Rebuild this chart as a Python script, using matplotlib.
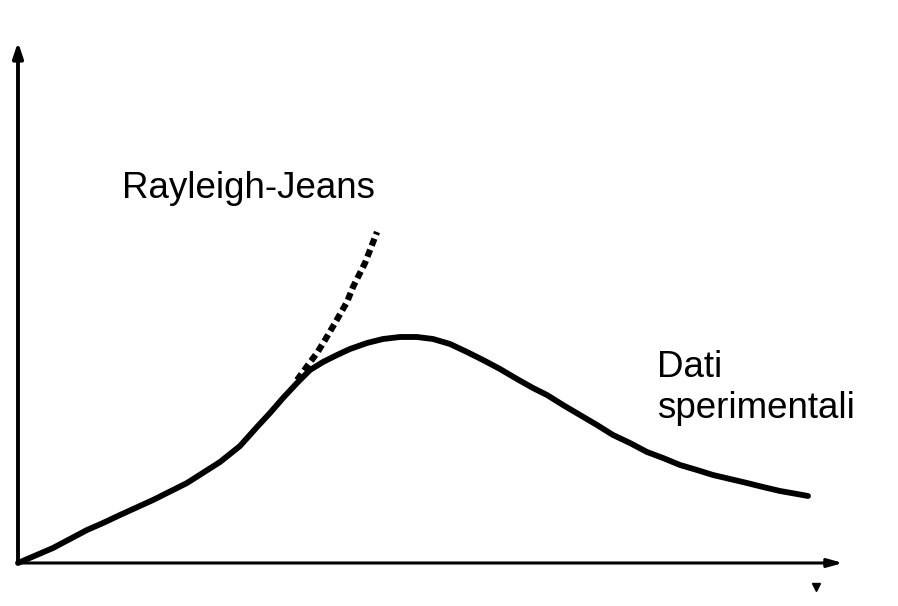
import numpy as np
import matplotlib.pyplot as plt

plt.rcParams['font.family'] = ['Liberation Sans', 'DejaVu Sans']

nu_dati = [0.0, 0.35, 0.52, 0.69, 0.85, 1.02, 1.35, 1.69, 2.02, 2.22, 2.39, 2.52,
           2.65, 2.79, 2.92, 3.05, 3.19, 3.32, 3.49, 3.65, 3.82, 3.99, 4.15, 4.32,
           4.49, 4.65, 4.82, 4.99, 5.15, 5.29, 5.45, 5.62, 5.79, 5.95, 6.12, 6.29,
           6.45, 6.62, 6.79, 6.95, 7.12, 7.29, 7.45, 7.62, 7.79, 7.90]
u_dati = [0.0, 0.15, 0.24, 0.33, 0.40, 0.48, 0.63, 0.80, 1.01, 1.17, 1.36, 1.50,
          1.65, 1.80, 1.93, 2.01, 2.08, 2.14, 2.20, 2.24, 2.26, 2.26, 2.24, 2.19,
          2.11, 2.03, 1.94, 1.84, 1.75, 1.68, 1.58, 1.48, 1.38, 1.28, 1.20, 1.11,
          1.05, 0.98, 0.93, 0.88, 0.84, 0.80, 0.76, 0.72, 0.69, 0.67]

# Rayleigh-Jeans (tratteggiata)
nu_rj = [2.79, 2.90, 2.99, 3.07, 3.17, 3.29, 3.35, 3.47, 3.59]
u_rj = [1.83, 1.98, 2.10, 2.23, 2.40, 2.61, 2.76, 3.00, 3.31]

etichetta_rj = "Rayleigh-Jeans"
etichetta_dati = ["Dati", "sperimentali"]

fig = plt.figure(figsize=(8.98, 6.06), dpi=100)
ax = fig.add_axes([0, 0, 1, 1])
ax.set_xlim(-0.18, 8.80)
ax.set_ylim(-0.43, 5.63)
ax.axis('off')

# assi con frecce
ax.annotate('', xy=(8.25, 0), xytext=(0, 0),
            arrowprops=dict(arrowstyle='-|>,head_length=0.9,head_width=0.25',
                            lw=2.2, color='black', shrinkA=0, shrinkB=0))
ax.annotate('', xy=(0, 5.21), xytext=(0, 0),
            arrowprops=dict(arrowstyle='-|>,head_length=0.9,head_width=0.3',
                            lw=2.8, color='black', shrinkA=0, shrinkB=0))

# curve
ax.plot(nu_dati, u_dati, color='black', lw=4.2, solid_capstyle='round',
        solid_joinstyle='round')
ax.plot(nu_rj, u_rj, color='black', lw=4.5, linestyle=(0, (1.2, 0.7)))

ax.plot([7.98], [-0.24], marker='v', color='black', markersize=6)

ax.text(1.04, 3.65, etichetta_rj, fontsize=26.5, va='baseline', ha='left')
ax.text(6.39, 1.86, etichetta_dati[0], fontsize=26.5, va='baseline', ha='left')
ax.text(6.39, 1.45, etichetta_dati[1], fontsize=26.5, va='baseline', ha='left')

fig.savefig('out.png', dpi=100, facecolor='white')
